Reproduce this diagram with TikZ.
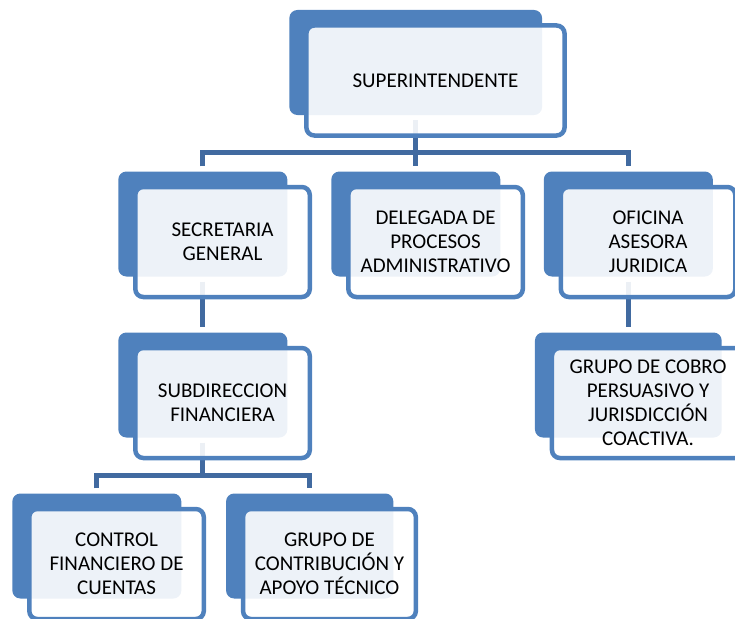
\documentclass[tikz,border=0pt]{standalone}
\usepackage{fontspec}
\setmainfont{Carlito}
\usetikzlibrary{backgrounds}
\definecolor{boxblue}{RGB}{79,129,189}
\definecolor{connblue}{RGB}{65,106,160}
\tikzset{
  backbox/.style={fill=boxblue, draw=none, rounded corners=8pt, inner sep=0pt,
    minimum width=169pt, minimum height=105pt},
  frontbox/.style={fill=white, fill opacity=0.9, text opacity=1, draw=boxblue,
    line width=4.5pt, rounded corners=8pt, inner sep=0pt, align=center,
    minimum width=174.5pt, minimum height=110pt,
    font=\fontsize{21}{24}\selectfont},
  conn/.style={draw=connblue, line width=5pt, line join=miter}
}
\begin{document}
\begin{tikzpicture}[x=1pt,y=-1pt]
\useasboundingbox (0,0) rectangle (735,618);
\clip (0,0) rectangle (735,618);
% back boxes
\node[backbox, minimum width=252.7pt] (sup-b) at (415.7,62.5) {};
\node[backbox] (sec-b) at (202.8,224) {};
\node[backbox] (del-b) at (415.8,224) {};
\node[backbox] (ofi-b) at (628.3,224) {};
\node[backbox] (sub-b) at (202.8,385) {};
\node[backbox, minimum width=186.7pt] (gru-b) at (628.3,385) {};
\node[backbox] (con-b) at (96.8,546) {};
\node[backbox, minimum width=167.3pt] (gca-b) at (309.7,546) {};
% front boxes
\node[frontbox, minimum width=258.2pt] (sup) at (435.45,80.5) {SUPERINTENDENTE};
\node[frontbox] (sec) at (222.55,242) {SECRETARIA\\GENERAL};
\node[frontbox] (del) at (435.55,242) {DELEGADA DE\\PROCESOS\\ADMINISTRATIVO};
\node[frontbox] (ofi) at (648.05,242) {OFICINA\\ASESORA\\JURIDICA};
\node[frontbox] (sub) at (222.55,403) {SUBDIRECCION\\FINANCIERA};
\node[frontbox, minimum width=192.2pt] (gru) at (648.05,403) {GRUPO DE COBRO\\PERSUASIVO Y\\JURISDICCIÓN\\COACTIVA.};
\node[frontbox] (con) at (116.55,564) {CONTROL\\FINANCIERO DE\\CUENTAS};
\node[frontbox, minimum width=172.8pt] (gca) at (329.45,564) {GRUPO DE\\CONTRIBUCIÓN Y\\APOYO TÉCNICO};
% connectors
\coordinate (bustop) at (0,152);
\coordinate (busbot) at (0,475);
\begin{pgfonlayer}{background}
\draw[conn] ([yshift=-5pt]sup-b.south) -- (sup-b.south |- bustop);
\draw[conn] ([yshift=5pt]sec-b.north) |- (bustop -| ofi-b.north) -- ([yshift=5pt]ofi-b.north);
\draw[conn] (bustop -| del-b.north) -- ([yshift=5pt]del-b.north);
\draw[conn] ([yshift=-5pt]sec-b.south) -- ([yshift=5pt]sub-b.north);
\draw[conn] ([yshift=-5pt]ofi-b.south) -- ([yshift=5pt]gru-b.north);
\draw[conn] ([yshift=-5pt]sub-b.south) -- (sub-b.south |- busbot);
\draw[conn] ([yshift=5pt]con-b.north) |- (busbot -| gca-b.north) -- ([yshift=5pt]gca-b.north);
\end{pgfonlayer}
\end{tikzpicture}
\end{document}
